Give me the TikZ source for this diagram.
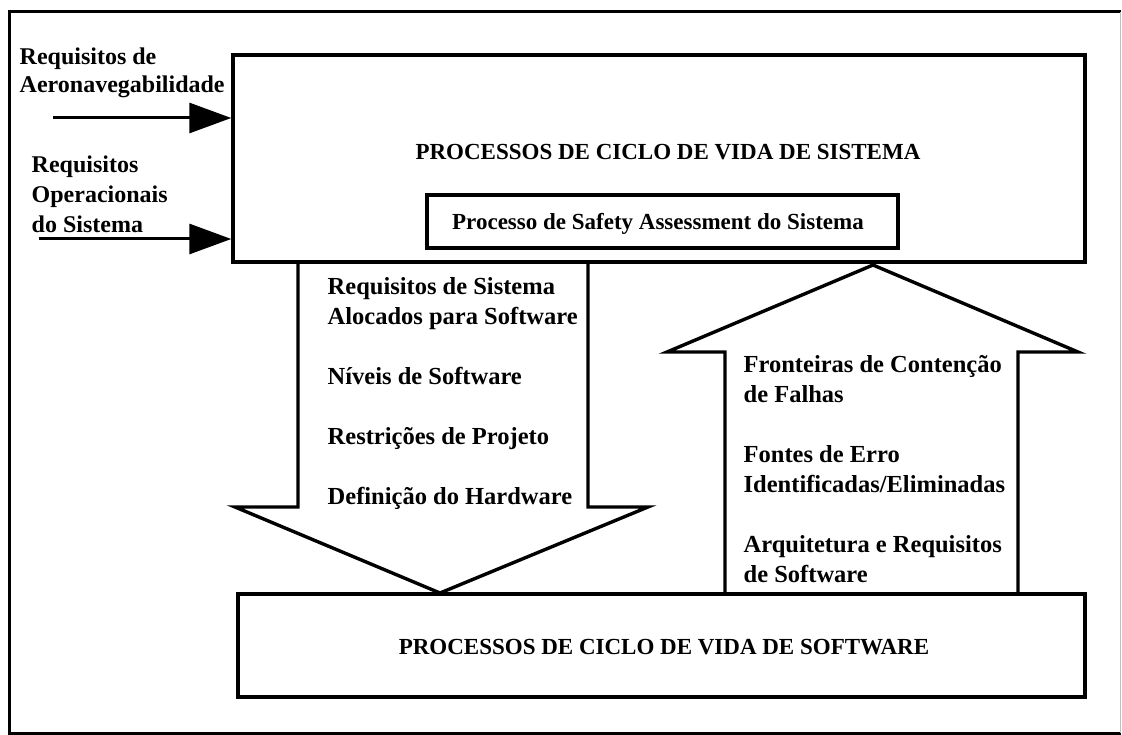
\documentclass[tikz,border=0pt]{standalone}
\usepackage{fontspec}
\setmainfont{Liberation Serif}
\usetikzlibrary{arrows.meta,positioning,calc}

\begin{document}
\begin{tikzpicture}[x=1pt, y=-1pt, line width=3.4pt,
  every node/.style={font=\bfseries\fontsize{24.5}{30}\selectfont, inner sep=0pt},
  procbox/.style={draw, rectangle, line width=3.4pt},
  captitle/.style={font=\bfseries\fontsize{23}{28}\selectfont},
  inarrow/.style={-{Triangle[length=42pt,width=30pt]}, line width=3pt}]
  \useasboundingbox (0,0) rectangle (1122,735);
  % Frame
  \draw[line width=3pt] (1121,12) -- (9,12) -- (9,733) -- (1121,733);
  \draw[line width=0.8pt, black!25] (1120,12) -- (1120,733);
  % Boxes
  \node[procbox, minimum width=852pt, minimum height=207pt] (sysbox) at (659,158.5) {};
  \node[procbox, minimum width=471pt, minimum height=53pt] (ssabox) at (662.5,221.5) {};
  \node[procbox, minimum width=847pt, minimum height=103pt] (swbox) at (661.5,645.5) {};
  \node[captitle, anchor=base] (systitle) at (668,160) {PROCESSOS DE CICLO DE VIDA DE SISTEMA};
  \node[captitle, anchor=base] (ssatitle) at (658,230) {Processo de Safety Assessment do Sistema};
  \node[captitle, anchor=base] (swtitle) at (664,654) {PROCESSOS DE CICLO DE VIDA DE SOFTWARE};
  % Block arrows
  \draw (298,262) -- (298,507) -- (235,507) -- (440,593) -- (648,507) -- (588,507) -- (588,262);
  \draw (725,594) -- (725,352) -- (667,352) -- (873,265) -- (1078,352) -- (1018,352) -- (1018,594);
  \node[anchor=north west, align=left] (downtext) at (326,276)
    {Requisitos de Sistema\\Alocados para Software\\[30pt]N\'iveis de Software\\[30pt]Restri\c{c}\~oes de Projeto\\[30pt]Defini\c{c}\~ao do Hardware};
  \node[anchor=north west, align=left] (uptext) at (742,354)
    {Fronteiras de Conten\c{c}\~ao\\de Falhas\\[30pt]Fontes de Erro\\Identificadas/Eliminadas\\[30pt]Arquitetura e Requisitos\\de Software};
  % Inputs
  \node[anchor=north west, align=left, font=\bfseries\fontsize{24}{28}\selectfont] (airtext) at (18,46)
    {Requisitos de\\Aeronavegabilidade};
  \node[anchor=north west, align=left, font=\bfseries\fontsize{24}{30}\selectfont] (optext) at (30,154)
    {Requisitos\\Operacionais\\do Sistema};
  \coordinate (airin) at (53,118);
  \coordinate (opin) at (39,239);
  \draw[inarrow] (airin) -- (airin -| sysbox.west);
  \draw[inarrow] (opin) -- (opin -| sysbox.west);
\end{tikzpicture}
\end{document}
